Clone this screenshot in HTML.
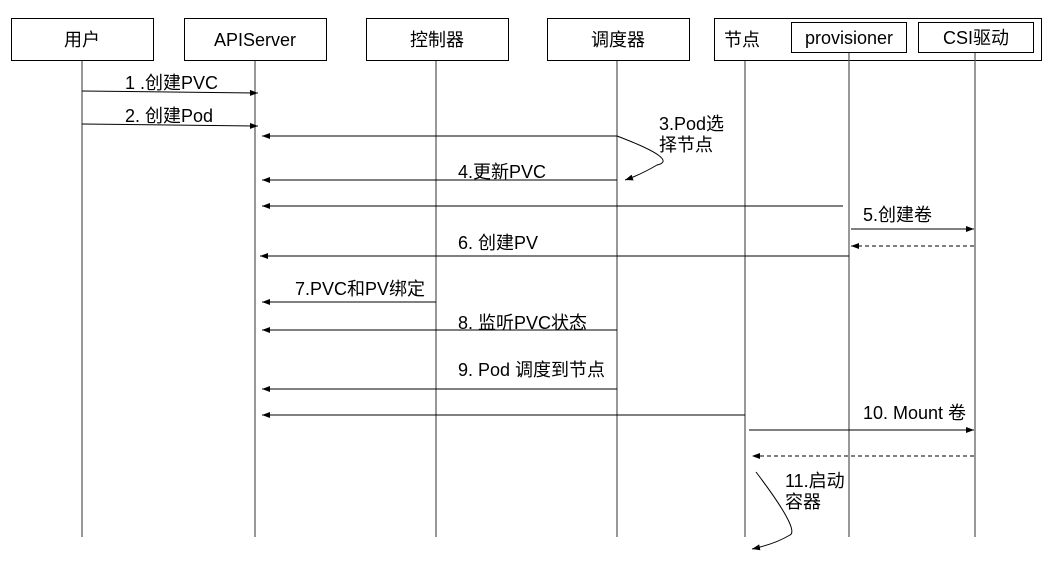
<!DOCTYPE html>
<html><head><meta charset="utf-8"><style>
body{margin:0;background:#fff;width:1057px;height:557px;overflow:hidden}
svg text{font-family:"Liberation Sans","Noto Sans CJK SC",sans-serif;font-size:18px;fill:#000}
</style></head><body>
<svg width="1057" height="557" viewBox="0 0 1057 557" xmlns="http://www.w3.org/2000/svg">
<defs><marker id="a" markerWidth="8" markerHeight="6" refX="8" refY="3" orient="auto" markerUnits="userSpaceOnUse"><path d="M0,0 L8,3 L0,6 z" fill="#000"/></marker></defs>
<g fill="#fff" stroke="#000" stroke-width="1">
<rect x="11.5" y="18.5" width="142" height="42"/>
<rect x="184.5" y="18.5" width="142" height="42"/>
<rect x="366.5" y="18.5" width="142" height="42"/>
<rect x="547.5" y="18.5" width="142" height="42"/>
<rect x="714.5" y="18.5" width="327" height="42"/>
<rect x="791.5" y="22.5" width="115" height="30"/>
<rect x="918.5" y="22.5" width="115" height="30"/>
</g>
<text x="82" y="46" text-anchor="middle">用户</text>
<text x="255" y="46" text-anchor="middle">APIServer</text>
<text x="437" y="46" text-anchor="middle">控制器</text>
<text x="618" y="46" text-anchor="middle">调度器</text>
<text x="724" y="46">节点</text>
<text x="849" y="44" text-anchor="middle">provisioner</text>
<text x="976" y="44" text-anchor="middle">CSI驱动</text>
<g stroke="#555" stroke-width="1.2">
<line x1="82" y1="61" x2="82" y2="537"/>
<line x1="255" y1="61" x2="255" y2="537"/>
<line x1="436" y1="61" x2="436" y2="537"/>
<line x1="617" y1="61" x2="617" y2="537"/>
<line x1="745" y1="61" x2="745" y2="537"/>
<line x1="849" y1="53" x2="849" y2="537"/>
<line x1="975" y1="53" x2="975" y2="537"/>
</g>
<g stroke="#000" stroke-width="1" fill="none" marker-end="url(#a)">
<line x1="82" y1="91" x2="258" y2="93"/>
<line x1="82" y1="124" x2="258" y2="126"/>
<line x1="617" y1="136" x2="262" y2="136"/>
<path d="M617,136 Q680,160 657,165 Q640,175 625,180"/>
<line x1="617" y1="180" x2="262" y2="180"/>
<line x1="843" y1="206" x2="262" y2="206"/>
<line x1="851" y1="229" x2="974" y2="229"/>
<line x1="974" y1="246" x2="851" y2="246" stroke-dasharray="4,3"/>
<line x1="849" y1="256" x2="260" y2="256"/>
<line x1="436" y1="302" x2="262" y2="302"/>
<line x1="617" y1="330" x2="262" y2="330"/>
<line x1="617" y1="389" x2="262" y2="389"/>
<line x1="745" y1="415" x2="262" y2="415"/>
<line x1="749" y1="430" x2="974" y2="430"/>
<line x1="974" y1="456" x2="752" y2="456" stroke-dasharray="4,3"/>
<path d="M756,472 Q800,530 790,535 Q775,544 752,549"/>
</g>
<text x="125" y="89">1 .创建PVC</text>
<text x="125" y="122">2. 创建Pod</text>
<text x="659" y="130">3.Pod选</text>
<text x="659" y="151">择节点</text>
<text x="458" y="178">4.更新PVC</text>
<text x="863" y="221">5.创建卷</text>
<text x="458" y="249">6. 创建PV</text>
<text x="295" y="295">7.PVC和PV绑定</text>
<text x="458" y="329">8. 监听PVC状态</text>
<text x="458" y="376">9. Pod 调度到节点</text>
<text x="863" y="419">10. Mount 卷</text>
<text x="785" y="487">11.启动</text>
<text x="785" y="508">容器</text>
</svg>
</body></html>
